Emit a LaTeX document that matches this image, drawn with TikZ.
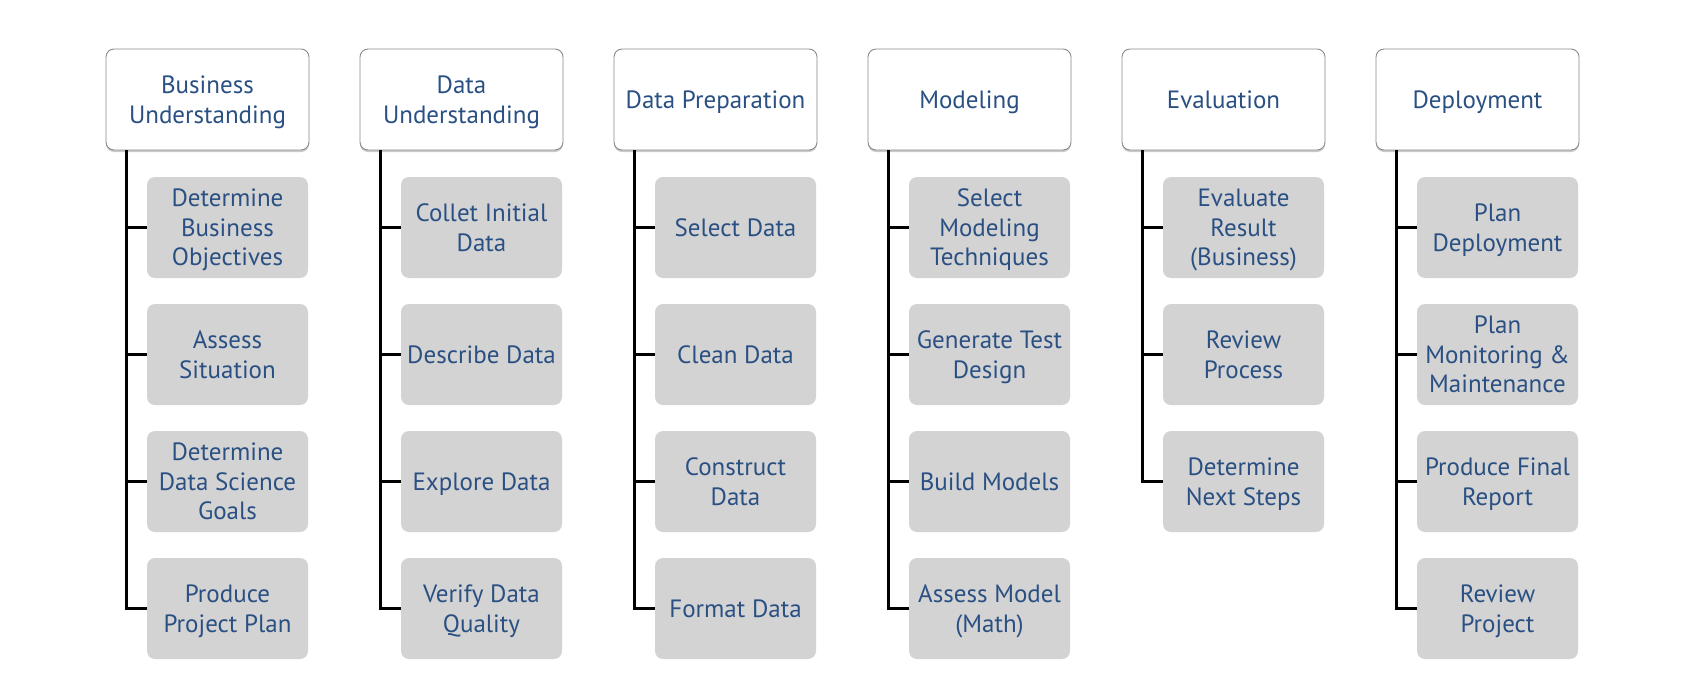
\documentclass[tikz,border=0pt]{standalone}
\usepackage{fontspec}
\setmainfont{PT Sans}
\usetikzlibrary{shadows}
\definecolor{txt}{HTML}{2A5083}
\definecolor{boxgray}{HTML}{D3D3D3}
\definecolor{headborder}{HTML}{8A8A8A}
\begin{document}
\begin{tikzpicture}[x=1pt,y=-1pt,
  head/.style={draw=headborder, line width=0.9pt, fill=white, rounded corners=8pt,
    minimum width=203pt, minimum height=101pt, align=center, text=txt, inner sep=0pt,
    font=\fontsize{25}{29.5}\selectfont, text depth=0pt,
    drop shadow={shadow xshift=0pt, shadow yshift=-2pt, opacity=0.35, fill=black!60}},
  sub/.style={fill=boxgray, rounded corners=8pt, minimum width=161pt, minimum height=101pt,
    align=center, text=txt, inner sep=0pt, font=\fontsize{25}{29.5}\selectfont, text depth=0pt},
  link/.style={line width=3.5pt, draw=black}]
\useasboundingbox (0,0) rectangle (1693,694);
% headers
\node[head] (h1) at (207.5,99.5) {Business\\Understanding};
\node[head] (h2) at (461.5,99.5) {Data\\Understanding};
\node[head] (h3) at (715.5,99.5) {Data Preparation};
\node[head] (h4) at (969.5,99.5) {Modeling};
\node[head] (h5) at (1223.5,99.5) {Evaluation};
\node[head] (h6) at (1477.5,99.5) {Deployment};
% column 1
\node[sub] (c11) at (227.5,227.5) {Determine\\Business\\Objectives};
\node[sub] (c12) at (227.5,354.5) {Assess\\Situation};
\node[sub] (c13) at (227.5,481.5) {Determine\\Data Science\\Goals};
\node[sub] (c14) at (227.5,608.5) {Produce\\Project Plan};
% column 2
\node[sub] (c21) at (481.5,227.5) {Collet Initial\\Data};
\node[sub] (c22) at (481.5,354.5) {Describe Data};
\node[sub] (c23) at (481.5,481.5) {Explore Data};
\node[sub] (c24) at (481.5,608.5) {Verify Data\\Quality};
% column 3
\node[sub] (c31) at (735.5,227.5) {Select Data};
\node[sub] (c32) at (735.5,354.5) {Clean Data};
\node[sub] (c33) at (735.5,481.5) {Construct\\Data};
\node[sub] (c34) at (735.5,608.5) {Format Data};
% column 4
\node[sub] (c41) at (989.5,227.5) {Select\\Modeling\\Techniques};
\node[sub] (c42) at (989.5,354.5) {Generate Test\\Design};
\node[sub] (c43) at (989.5,481.5) {Build Models};
\node[sub] (c44) at (989.5,608.5) {Assess Model\\(Math)};
% column 5
\node[sub] (c51) at (1243.5,227.5) {Evaluate\\Result\\(Business)};
\node[sub] (c52) at (1243.5,354.5) {Review\\Process};
\node[sub] (c53) at (1243.5,481.5) {Determine\\Next Steps};
% column 6
\node[sub] (c61) at (1497.5,227.5) {Plan\\Deployment};
\node[sub] (c62) at (1497.5,354.5) {Plan\\Monitoring \&\\Maintenance};
\node[sub] (c63) at (1497.5,481.5) {Produce Final\\Report};
\node[sub] (c64) at (1497.5,608.5) {Review\\Project};
% trunks
\foreach \i in {1,...,6}{
  \coordinate (t\i) at ([xshift=21pt]h\i.south west);
}
\draw[link] (t1) |- (c14.west);
\foreach \j in {1,2,3}{ \draw[link] (c1\j.west -| t1) -- (c1\j.west); }
\draw[link] (t2) |- (c24.west);
\foreach \j in {1,2,3}{ \draw[link] (c2\j.west -| t2) -- (c2\j.west); }
\draw[link] (t3) |- (c34.west);
\foreach \j in {1,2,3}{ \draw[link] (c3\j.west -| t3) -- (c3\j.west); }
\draw[link] (t4) |- (c44.west);
\foreach \j in {1,2,3}{ \draw[link] (c4\j.west -| t4) -- (c4\j.west); }
\draw[link] (t5) |- (c53.west);
\foreach \j in {1,2}{ \draw[link] (c5\j.west -| t5) -- (c5\j.west); }
\draw[link] (t6) |- (c64.west);
\foreach \j in {1,2,3}{ \draw[link] (c6\j.west -| t6) -- (c6\j.west); }
\end{tikzpicture}
\end{document}
